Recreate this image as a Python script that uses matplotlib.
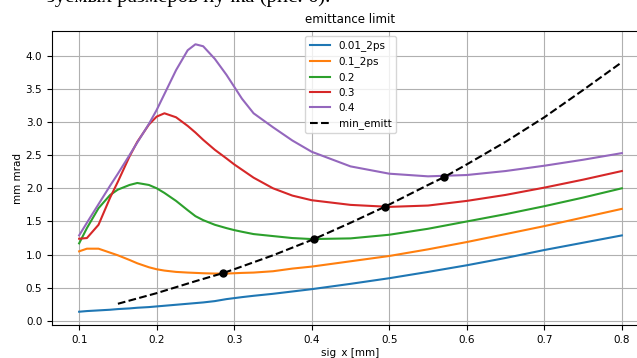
import matplotlib
matplotlib.use("Agg")
import matplotlib.pyplot as plt

# sig_x grid [mm]
sig_x = [0.1, 0.11, 0.125, 0.14, 0.15, 0.165, 0.175, 0.19, 0.2, 0.21,
         0.225, 0.24, 0.25, 0.26, 0.275, 0.29, 0.3, 0.31, 0.325, 0.35,
         0.375, 0.4, 0.45, 0.5, 0.55, 0.6, 0.65, 0.7, 0.75, 0.8]

# emittance curves [mm mrad]
em_001_2ps = [0.14, 0.15, 0.16, 0.17, 0.18, 0.19, 0.20, 0.21, 0.22, 0.23,
              0.245, 0.26, 0.27, 0.28, 0.30, 0.33, 0.345, 0.36, 0.38, 0.41,
              0.445, 0.48, 0.56, 0.645, 0.74, 0.84, 0.95, 1.07, 1.18, 1.29]
em_01_2ps = [1.05, 1.09, 1.09, 1.03, 0.99, 0.92, 0.87, 0.81, 0.78, 0.76,
             0.74, 0.73, 0.725, 0.72, 0.715, 0.715, 0.72, 0.725, 0.73, 0.75,
             0.79, 0.82, 0.90, 0.98, 1.08, 1.19, 1.31, 1.43, 1.56, 1.69]
em_02 = [1.17, 1.40, 1.70, 1.90, 1.98, 2.05, 2.08, 2.05, 2.0, 1.93,
         1.81, 1.67, 1.58, 1.52, 1.45, 1.40, 1.37, 1.345, 1.31, 1.28,
         1.25, 1.235, 1.245, 1.30, 1.39, 1.50, 1.61, 1.73, 1.86, 2.0]
em_03 = [1.24, 1.25, 1.45, 1.86, 2.10, 2.48, 2.70, 2.96, 3.08, 3.13,
         3.07, 2.94, 2.84, 2.73, 2.58, 2.45, 2.36, 2.28, 2.16, 2.0,
         1.89, 1.82, 1.75, 1.72, 1.74, 1.81, 1.90, 2.01, 2.13, 2.26]
em_04 = [1.29, 1.48, 1.76, 2.04, 2.22, 2.50, 2.69, 2.97, 3.18, 3.42,
         3.78, 4.08, 4.17, 4.14, 3.95, 3.71, 3.53, 3.35, 3.13, 2.92,
         2.72, 2.55, 2.33, 2.22, 2.18, 2.20, 2.26, 2.34, 2.43, 2.53]

# minimum emittance line
min_x = [0.15, 0.2, 0.25, 0.285, 0.3, 0.35, 0.403, 0.45, 0.494, 0.55,
         0.571, 0.6, 0.65, 0.7, 0.75, 0.8]
min_y = [0.26, 0.42, 0.60, 0.72, 0.78, 0.99, 1.235, 1.48, 1.72, 2.05,
         2.17, 2.36, 2.70, 3.07, 3.48, 3.90]

# minima points
dot_x = [0.285, 0.403, 0.494, 0.571]
dot_y = [0.72, 1.235, 1.72, 2.17]

fig = plt.figure(figsize=(6.37, 3.58), dpi=100)
ax = fig.add_axes([52/637, 33/358, 597/637, 294/358])

ax.plot(sig_x, em_001_2ps, label="0.01_2ps")
ax.plot(sig_x, em_01_2ps, label="0.1_2ps")
ax.plot(sig_x, em_02, label="0.2")
ax.plot(sig_x, em_03, label="0.3")
ax.plot(sig_x, em_04, label="0.4")
ax.plot(min_x, min_y, "k--", label="min_emitt")
ax.plot(dot_x, dot_y, "ko", markersize=5)

ax.set_xlim(0.065, 0.835)
ax.set_ylim(-0.06, 4.37)
ax.set_xticks([0.1, 0.2, 0.3, 0.4, 0.5, 0.6, 0.7, 0.8])
ax.set_yticks([0.0, 0.5, 1.0, 1.5, 2.0, 2.5, 3.0, 3.5, 4.0])
ax.tick_params(labelsize=7.5)
ax.grid(True)
ax.set_title("emittance limit", fontsize=8.5)
ax.set_xlabel("sig_x [mm]", fontsize=7.5, labelpad=2)
ax.set_ylabel("mm mrad", fontsize=7.5, labelpad=2)
ax.legend(loc="upper center", fontsize=7.5)

# cut line of document text above the figure
fig.text(330/637, 1 - 2/358, "зуемых размеров пучка (рис. 6).",
         ha="right", va="baseline", fontsize=15, family="Liberation Serif")

fig.savefig("out.png", dpi=100)
